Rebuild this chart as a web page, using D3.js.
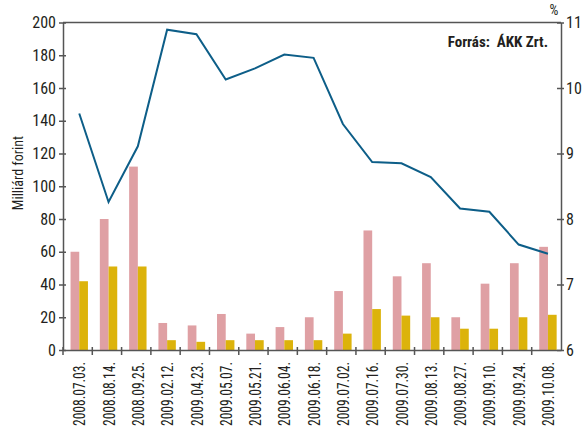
<!DOCTYPE html>
<meta charset="utf-8">
<style>
body { margin: 0; background: #fff; }
svg text { font-family: "Liberation Sans Narrow", "Arial Narrow", "Roboto Condensed", sans-serif; fill: #231f20; }
.tick text { font-size: 16px; }
.axis path, .axis line { stroke: #555; stroke-width: 1.5px; }
</style>
<svg width="582" height="430"></svg>
<script src="https://d3js.org/d3.v7.min.js"></script>
<script>

// dates of the auctions
var dates = ["2008.07.03.", "2008.08.14.", "2008.09.25.", "2009.02.12.", "2009.04.23.",
  "2009.05.07.", "2009.05.21.", "2009.06.04.", "2009.06.18.", "2009.07.02.",
  "2009.07.16.", "2009.07.30.", "2009.08.13.", "2009.08.27.", "2009.09.10.",
  "2009.09.24.", "2009.10.08."];

// bars, left axis (milliárd forint)
var offered = [60, 80, 112, 16.5, 15, 22, 10, 14, 20, 36, 73, 45, 53, 20, 40.5, 53, 63];
var accepted = [42, 51, 51, 6, 5, 6, 6, 6, 6, 10, 25, 21, 20, 13, 13, 20, 21.5];

// line, right axis (%)
var yields = [9.61, 8.26, 9.11, 10.89, 10.82, 10.13, 10.30, 10.51, 10.46, 9.45,
  8.87, 8.85, 8.64, 8.16, 8.11, 7.61, 7.47];

var leftTicks = [0, 20, 40, 60, 80, 100, 120, 140, 160, 180, 200];
var rightTicks = [6, 7, 8, 9, 10, 11];

var svg = d3.select("svg"),
    mLeft = 63, mRight = 561, mTop = 22.5, mBottom = 350;

var x = d3.scaleBand().domain(dates).range([mLeft, mRight]);
var xs = d3.scaleBand().domain(["a", "b"]).range([0, 17.4]);
var shift = (x.bandwidth() - 17.4) / 2 + 1.6;

var y = d3.scaleLinear().domain([0, 200]).range([mBottom, mTop]);
var y2 = d3.scaleLinear().domain([6, 11]).range([mBottom, mTop]);

// frame top line
svg.append("line")
    .attr("x1", mLeft).attr("x2", mRight).attr("y1", mTop).attr("y2", mTop)
    .attr("stroke", "#555").attr("stroke-width", 1.5);

// bars
var g = svg.selectAll("g.grp")
  .data(dates)
  .enter().append("g")
    .attr("transform", function(d) { return "translate(" + (x(d) + shift) + ",0)"; });

g.append("rect")
    .attr("x", xs("a"))
    .attr("width", xs.bandwidth())
    .attr("y", function(d, i) { return y(offered[i]); })
    .attr("height", function(d, i) { return mBottom - y(offered[i]); })
    .attr("fill", "#dfa0a4");

g.append("rect")
    .attr("x", xs("b"))
    .attr("width", xs.bandwidth())
    .attr("y", function(d, i) { return y(accepted[i]); })
    .attr("height", function(d, i) { return mBottom - y(accepted[i]); })
    .attr("fill", "#dcb30b");

// line
var line = d3.line()
    .x(function(d, i) { return x(dates[i]) + shift + 8.7; })
    .y(function(d) { return y2(d); });

svg.append("path")
    .datum(yields)
    .attr("d", line)
    .attr("fill", "none")
    .attr("stroke", "#0d5e88")
    .attr("stroke-width", 2);

// axes
var yl = svg.append("g").attr("class", "axis")
    .attr("transform", "translate(" + mLeft + ",0)")
    .call(d3.axisLeft(y).tickValues(leftTicks).tickSize(4).tickPadding(4).tickSizeOuter(0));
yl.selectAll(".tick line").attr("x2", 3).attr("x1", -4);
yl.selectAll(".tick text").attr("x", -7);

var yr = svg.append("g").attr("class", "axis")
    .attr("transform", "translate(" + mRight + ",0)")
    .call(d3.axisRight(y2).tickValues(rightTicks).tickFormat(d3.format("d"))
      .tickSize(4).tickPadding(4).tickSizeOuter(0));
yr.selectAll(".tick line").attr("x1", -4).attr("x2", 3);
yr.selectAll(".tick text").attr("x", 5);

var xa = svg.append("g").attr("class", "axis")
    .attr("transform", "translate(0," + mBottom + ")")
    .call(d3.axisBottom(x).tickSize(0).tickSizeOuter(0));
xa.selectAll(".tick text")
    .attr("transform", "translate(" + (shift - x.bandwidth() / 2 + 8.7 + 0.5) + ",0) rotate(-90)")
    .attr("x", -12)
    .attr("y", 0)
    .attr("dy", "0.35em")
    .attr("textLength", 64)
    .attr("lengthAdjust", "spacingAndGlyphs")
    .style("text-anchor", "end")
    .style("font-size", "16px");

// separators between categories
svg.selectAll("line.sep")
  .data(dates)
  .enter().append("line")
    .attr("class", "sep")
    .attr("x1", function(d) { return x(d); })
    .attr("x2", function(d) { return x(d); })
    .attr("y1", mBottom - 3).attr("y2", mBottom + 5)
    .attr("stroke", "#555").attr("stroke-width", 1.5);

// texts
svg.append("text")
    .attr("transform", "translate(23,173) rotate(-90)")
    .attr("text-anchor", "middle")
    .style("font-size", "14px")
    .text("Milliárd forint");

svg.append("text")
    .attr("x", 554).attr("y", 15)
    .attr("text-anchor", "middle")
    .style("font-size", "14px")
    .text("%");

svg.append("text")
    .attr("x", 548).attr("y", 47)
    .attr("text-anchor", "end")
    .style("font-size", "15px")
    .style("font-weight", "bold")
    .attr("xml:space", "preserve")
    .text("Forrás:  ÁKK Zrt.");

</script>
